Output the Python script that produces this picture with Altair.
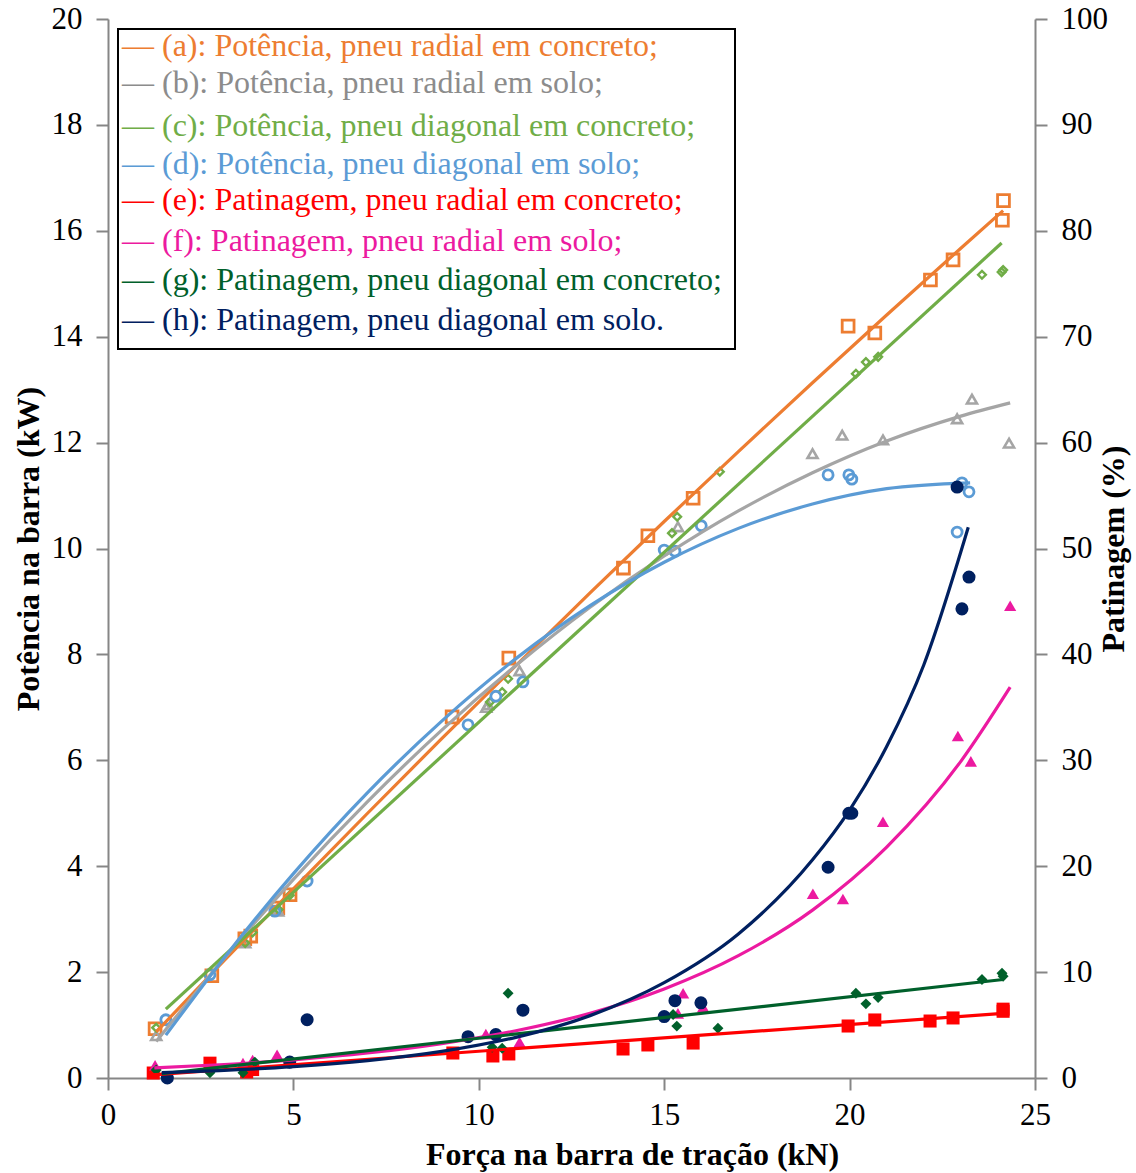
import altair as alt
import pandas as pd

# ---------------- data: power (kW) ----------------
a_x = [1.27, 2.8, 3.69, 3.85, 4.58, 4.91, 9.28, 10.81, 13.9, 14.56, 15.78, 19.96, 20.68, 22.18, 22.79, 24.12, 24.15]
a_y = [0.93, 1.93, 2.63, 2.68, 3.21, 3.46, 6.82, 7.93, 9.63, 10.24, 10.95, 14.2, 14.07, 15.07, 15.45, 16.2, 16.57]
b_x = [1.3, 3.7, 4.59, 10.2, 10.25, 11.1, 15.37, 19.0, 19.8, 20.9, 22.9, 23.3, 24.3]
b_y = [0.8, 2.55, 3.15, 7.0, 7.05, 7.69, 10.41, 11.79, 12.14, 12.05, 12.45, 12.82, 11.99]
c_x = [1.3, 3.7, 3.9, 4.6, 4.9, 10.3, 10.63, 10.79, 15.21, 15.35, 16.5, 20.17, 20.44, 20.77, 23.57, 24.1, 24.14]
c_y = [0.95, 2.55, 2.75, 3.18, 3.45, 7.1, 7.29, 7.54, 10.29, 10.6, 11.45, 13.3, 13.52, 13.62, 15.17, 15.22, 15.26]
d_x = [1.56, 2.75, 4.5, 5.37, 9.71, 10.46, 11.19, 15.0, 15.29, 16.0, 19.42, 19.98, 20.06, 22.9, 23.03, 23.22]
d_y = [1.1, 1.95, 3.15, 3.72, 6.67, 7.21, 7.48, 9.97, 9.95, 10.43, 11.39, 11.39, 11.31, 10.31, 11.24, 11.07]

# trend lines (power)
a_fit_x = [1.3, 3, 5, 7, 9, 11, 13, 15, 17, 19, 21, 23, 24.14]
a_fit_y = [0.87, 2.12, 3.57, 5.0, 6.41, 7.79, 9.16, 10.51, 11.83, 13.13, 14.41, 15.67, 16.38]
b_fit_x = [1.3, 3, 5, 7, 9, 11, 13, 15, 17, 19, 21, 23, 24.33]
b_fit_y = [0.69, 2.15, 3.75, 5.22, 6.57, 7.79, 8.89, 9.86, 10.71, 11.43, 12.03, 12.5, 12.75]
c_fit_x = [1.56, 24.1]
c_fit_y = [1.3, 15.77]
d_fit_x = [1.56, 3, 5, 7, 9, 11, 13, 15, 17, 19, 21, 23.25]
d_fit_y = [0.81, 2.15, 3.86, 5.39, 6.74, 7.92, 8.92, 9.74, 10.38, 10.84, 11.13, 11.24]

# ---------------- data: slip (%) ----------------
e_x = [1.22, 2.75, 3.74, 3.9, 9.3, 10.38, 10.81, 13.89, 14.56, 15.78, 19.96, 20.68, 22.17, 22.79, 24.14, 24.14]
e_y = [0.47, 1.4, 0.57, 0.8, 2.36, 2.08, 2.27, 2.74, 3.12, 3.3, 4.91, 5.48, 5.38, 5.67, 6.5, 6.3]
f_x = [1.27, 3.64, 3.9, 4.56, 10.19, 11.1, 15.37, 15.51, 16.05, 19.01, 19.82, 20.9, 22.92, 23.27, 24.33]
f_y = [1.2, 1.4, 1.7, 2.2, 4.15, 3.4, 6.1, 8.0, 6.7, 17.4, 16.9, 24.2, 32.3, 29.9, 44.6]
g_x = [1.3, 2.75, 3.64, 3.96, 10.36, 10.63, 10.79, 15.24, 15.34, 16.45, 20.17, 20.44, 20.77, 23.57, 24.11, 24.14]
g_y = [0.75, 0.5, 0.5, 1.5, 2.9, 2.8, 8.0, 6.0, 4.9, 4.7, 8.0, 7.0, 7.6, 9.3, 9.9, 9.6]
h_x = [1.6, 4.9, 5.37, 9.71, 10.46, 11.19, 15.0, 15.29, 15.99, 19.42, 19.98, 20.06, 22.9, 23.03, 23.22]
h_y = [0.0, 1.5, 5.5, 3.9, 4.1, 6.4, 5.8, 7.3, 7.1, 19.9, 25.0, 25.0, 55.8, 44.3, 47.3]

e_fit_x = [1.2, 24.14]
e_fit_y = [0.3, 6.1]
f_fit_x = [1.25, 3, 5, 7, 9, 11, 13, 15, 17, 19, 21, 23, 24.33]
f_fit_y = [0.95, 1.25, 1.72, 2.36, 3.25, 4.46, 6.12, 8.41, 11.55, 15.85, 21.8, 29.9, 36.9]
g_fit_x = [1.45, 24.14]
g_fit_y = [0.4, 9.3]
h_fit_x = [1.45, 3, 5, 7, 9, 11, 13, 15, 17, 19, 20, 21, 22, 23.2]
h_fit_y = [0.5, 0.7, 1.07, 1.64, 2.51, 3.84, 5.89, 9.0, 13.6, 20.6, 25.3, 31.3, 39.0, 52.0]

legend_labels = [
    "(a): Potência, pneu radial em concreto;",
    "(b): Potência, pneu radial em solo;",
    "(c): Potência, pneu diagonal em concreto;",
    "(d): Potência, pneu diagonal em solo;",
    "(e): Patinagem, pneu radial em concreto;",
    "(f): Patinagem, pneu radial em solo;",
    "(g): Patinagem, pneu diagonal em concreto;",
    "(h): Patinagem, pneu diagonal em solo.",
]
x_ticks = [0, 5, 10, 15, 20, 25]
left_ticks = [0, 2, 4, 6, 8, 10, 12, 14, 16, 18, 20]
right_ticks = [0, 10, 20, 30, 40, 50, 60, 70, 80, 90, 100]

# ---------------- styling ----------------
FONT = "Liberation Serif"
AX = "#868686"
colors = {
    "a": "#ED7D31", "b": "#A5A5A5", "c": "#70AD47", "d": "#5B9BD5",
    "e": "#FF0000", "f": "#EC1AA0", "g": "#00602B", "h": "#002060",
}
text_colors = ["#ED7D31", "#8C8C8C", "#70AD47", "#5B9BD5", "#FF0000", "#EC1AA0", "#00602B", "#002060"]
legend_y = [27, 64, 107, 145, 181, 222, 261, 301]

W, H = 927, 1059

x_enc = alt.X(
    "x:Q",
    scale=alt.Scale(domain=[0, 25], nice=False),
    axis=alt.Axis(
        values=x_ticks, grid=False, domainColor=AX, domainWidth=2, tickColor=AX,
        tickWidth=2, tickSize=12, labelFont=FONT, labelFontSize=31, labelColor="black",
        labelPadding=10, labelFlush=False, title="Força na barra de tração (kN)", titleFont=FONT,
        titleFontSize=32, titleFontWeight="bold", titleColor="black", titleX=524,
        titleY=76, titleBaseline="middle", titleAlign="center",
    ),
)

left_axis = alt.Axis(
    values=left_ticks, grid=False, domainColor=AX, domainWidth=2, tickColor=AX,
    tickWidth=2, tickSize=12, labelFont=FONT, labelFontSize=31, labelColor="black",
    labelPadding=14, labelFlush=False, title="Potência na barra (kW)", titleFont=FONT, titleFontSize=32,
    titleFontWeight="bold", titleColor="black", titleAngle=-90, titleX=-80,
    titleY=H / 2, titleBaseline="middle", titleAlign="center", orient="left",
)
right_axis = alt.Axis(
    values=right_ticks, grid=False, domainColor=AX, domainWidth=2, tickColor=AX,
    tickWidth=2, tickSize=12, labelFont=FONT, labelFontSize=31, labelColor="black",
    labelPadding=14, labelFlush=False, title="Patinagem (%)", titleFont=FONT, titleFontSize=32,
    titleFontWeight="bold", titleColor="black", titleAngle=-90, titleX=78,
    titleY=H / 2, titleBaseline="middle", titleAlign="center", orient="right",
)


def yp():
    return alt.Y("y:Q", scale=alt.Scale(domain=[0, 20], nice=False), axis=left_axis)


def ys():
    return alt.Y("y:Q", scale=alt.Scale(domain=[0, 100], nice=False), axis=right_axis)


def df(xs, ys_):
    return pd.DataFrame({"x": xs, "y": ys_})


def fit_line(xs, ys_, color, yenc, curved):
    m = alt.Chart(df(xs, ys_)).mark_line(
        color=color, strokeWidth=3.2, interpolate="monotone" if curved else "linear"
    )
    return m.encode(x=x_enc, y=yenc)


def points(xs, ys_, color, shape, size, filled, yenc, sw=2.6):
    if filled:
        m = alt.Chart(df(xs, ys_)).mark_point(
            shape=shape, size=size, filled=True, color=color, opacity=1
        )
    else:
        m = alt.Chart(df(xs, ys_)).mark_point(
            shape=shape, size=size, filled=False, color=color, strokeWidth=sw, opacity=1
        )
    return m.encode(x=x_enc, y=yenc)


power = alt.layer(
    points(a_x, a_y, colors["a"], "square", 140, False, yp(), sw=2.8),
    points(b_x, b_y, colors["b"], "triangle-up", 100, False, yp()),
    points(c_x, c_y, colors["c"], "diamond", 60, False, yp(), sw=2.4),
    points(d_x, d_y, colors["d"], "circle", 100, False, yp(), sw=2.8),
    fit_line(a_fit_x, a_fit_y, colors["a"], yp(), True),
    fit_line(b_fit_x, b_fit_y, colors["b"], yp(), True),
    fit_line(c_fit_x, c_fit_y, colors["c"], yp(), False),
    fit_line(d_fit_x, d_fit_y, colors["d"], yp(), True),
)

slip = alt.layer(
    points(e_x, e_y, colors["e"], "square", 170, True, ys()),
    points(f_x, f_y, colors["f"], "triangle-up", 150, True, ys()),
    points(g_x, g_y, colors["g"], "diamond", 120, True, ys()),
    points(h_x, h_y, colors["h"], "circle", 170, True, ys()),
    fit_line(e_fit_x, e_fit_y, colors["e"], ys(), False),
    fit_line(f_fit_x, f_fit_y, colors["f"], ys(), True),
    fit_line(g_fit_x, g_fit_y, colors["g"], ys(), False),
    fit_line(h_fit_x, h_fit_y, colors["h"], ys(), True),
)

# legend box and entries
box = alt.Chart(pd.DataFrame({"k": [0]})).mark_rect(
    fill="white", stroke="black", strokeWidth=2
).encode(x=alt.value(10), x2=alt.value(627), y=alt.value(10), y2=alt.value(330))

legend_layers = [box]
for lab, col, ly in zip(legend_labels, text_colors, legend_y):
    legend_layers.append(
        alt.Chart(pd.DataFrame({"t": ["— " + lab]})).mark_text(
            align="left", baseline="middle", font=FONT, fontSize=32, color=col
        ).encode(text="t:N", x=alt.value(14), y=alt.value(ly))
    )
legend = alt.layer(*legend_layers)

chart = alt.layer(power, slip, legend).resolve_scale(y="independent").properties(
    width=W, height=H,
    autosize=alt.AutoSizeParams(type="none"),
    padding={"left": 108, "top": 19, "right": 101, "bottom": 95},
    background="white",
).configure_view(stroke=None)

chart.save("out.html", embed_options={"renderer": "svg", "actions": False})
